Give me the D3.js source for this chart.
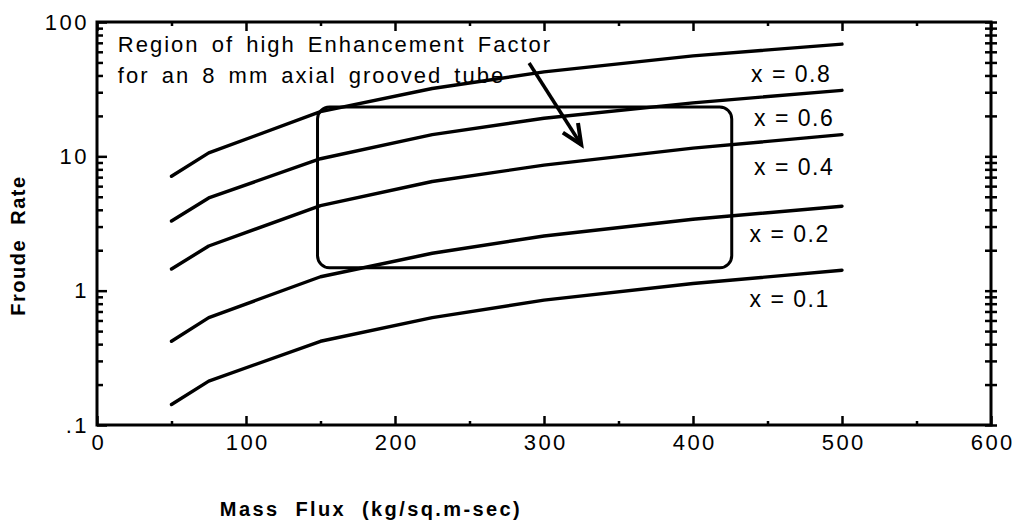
<!DOCTYPE html>
<html><head><meta charset="utf-8">
<script src="https://cdn.jsdelivr.net/npm/d3@7"></script>
<style>
body{margin:0;background:#fff}
text{font-family:"Liberation Sans",Arial,Helvetica,sans-serif;fill:#000}
</style>
</head><body>
<svg id="chart" width="1018" height="529"></svg>
<script>
// ---- data ----
const massFlux = [50, 75, 150, 225, 300, 400, 500];
const froude08 = [7.1, 10.6, 21.5, 32, 42.5, 56, 68.5];
const froude06 = [3.3, 4.9, 9.6, 14.5, 19.2, 25, 31];
const froude04 = [1.45, 2.15, 4.3, 6.5, 8.6, 11.5, 14.5];
const froude02 = [0.42, 0.63, 1.27, 1.9, 2.55, 3.4, 4.25];
const froude01 = [0.142, 0.212, 0.42, 0.63, 0.85, 1.13, 1.42];
const seriesLabels = ["x = 0.8", "x = 0.6", "x = 0.4", "x = 0.2", "x = 0.1"];
const labelFlux = [439, 441, 441, 438, 438];
const labelFroude = [36, 16.8, 7.3, 2.3, 0.75];
const xTickValues = [0, 100, 200, 300, 400, 500, 600];
const xMinorValues = [50, 150, 250, 350, 450, 550];
const yTickValues = [0.1, 1, 10, 100];
const yTickLabels = [".1", "1", "10", "100"];
const regionFlux = [148, 426];
const regionFroude = [1.48, 23.3];
const arrowFlux = [290, 325];
const arrowFroude = [49.5, 12.2];
const noteFlux = 14;
const noteFroude = [60, 35];
const noteLines = ["Region of high Enhancement Factor", "for an 8 mm axial grooved tube"];
const xTitle = "Mass  Flux  (kg/sq.m-sec)";
const yTitle = "Froude  Rate";

const series = [froude08, froude06, froude04, froude02, froude01];

// ---- layout ----
const L = 97, R = 991, T = 22, B = 425;
const svg = d3.select("#chart");
const x = d3.scaleLinear().domain([0, 600]).range([L, R]);
const y = d3.scaleLog().domain([0.1, 100]).range([B, T]);
const yMinor = y.ticks().filter(v => !yTickValues.includes(v));

const tickFont = sel => sel.selectAll("text")
  .style("font-size", "22px").style("letter-spacing", "2.5px").attr("fill", "#000");
const clean = g => { g.select(".domain").remove(); g.selectAll("line").attr("stroke", "#000").attr("stroke-width", 2.5); };

// bottom
svg.append("g").attr("transform", `translate(0,${B})`)
  .call(d3.axisBottom(x).tickValues(xTickValues).tickSizeInner(-9).tickSizeOuter(0).tickPadding(25).tickFormat(d3.format("d")))
  .call(clean).call(tickFont)
  .selectAll("text").attr("dy", "0").attr("dx", "1.25px");
svg.append("g").attr("transform", `translate(0,${B})`)
  .call(d3.axisBottom(x).tickValues(xMinorValues).tickSizeInner(-4).tickSizeOuter(0).tickFormat(""))
  .call(clean);
// top
svg.append("g").attr("transform", `translate(0,${T})`)
  .call(d3.axisTop(x).tickValues(xTickValues).tickSizeInner(-9).tickSizeOuter(0).tickFormat(""))
  .call(clean);
svg.append("g").attr("transform", `translate(0,${T})`)
  .call(d3.axisTop(x).tickValues(xMinorValues).tickSizeInner(-4).tickSizeOuter(0).tickFormat(""))
  .call(clean);
// left
svg.append("g").attr("transform", `translate(${L},0)`)
  .call(d3.axisLeft(y).tickValues(yTickValues).tickSizeInner(-10).tickSizeOuter(0).tickPadding(8)
    .tickFormat((d, i) => yTickLabels[i]))
  .call(clean).call(tickFont);
svg.append("g").attr("transform", `translate(${L},0)`)
  .call(d3.axisLeft(y).tickValues(yMinor).tickSizeInner(-6).tickSizeOuter(0).tickFormat(""))
  .call(clean);
// right (ticks cross the spine)
[6, -6].forEach(s => {
  svg.append("g").attr("transform", `translate(${R},0)`)
    .call(d3.axisRight(y).tickValues(yTickValues.concat(yMinor)).tickSizeInner(s).tickSizeOuter(0).tickFormat(""))
    .call(clean);
});
// frame
svg.append("rect").attr("x", L).attr("y", T).attr("width", R - L).attr("height", B - T)
  .attr("fill", "none").attr("stroke", "#000").attr("stroke-width", 3);

// curves
const line = d3.line().x((d, i) => x(massFlux[i])).y(d => y(d));
series.forEach(s => {
  svg.append("path").datum(s).attr("d", line)
    .attr("fill", "none").attr("stroke", "#000").attr("stroke-width", 3.4)
    .attr("stroke-linejoin", "round").attr("stroke-linecap", "round");
});

// curve labels
seriesLabels.forEach((t, i) => {
  svg.append("text").attr("x", x(labelFlux[i])).attr("y", y(labelFroude[i]))
    .style("font-size", "23px").style("letter-spacing", "1.5px").text(t);
});

// region box
svg.append("rect")
  .attr("x", x(regionFlux[0])).attr("y", y(regionFroude[1]))
  .attr("width", x(regionFlux[1]) - x(regionFlux[0]))
  .attr("height", y(regionFroude[0]) - y(regionFroude[1]))
  .attr("rx", 12).attr("ry", 12)
  .attr("fill", "none").attr("stroke", "#000").attr("stroke-width", 3);

// arrow
const ax0 = x(arrowFlux[0]), ay0 = y(arrowFroude[0]), ax1 = x(arrowFlux[1]), ay1 = y(arrowFroude[1]);
svg.append("line").attr("x1", ax0).attr("y1", ay0).attr("x2", ax1).attr("y2", ay1)
  .attr("stroke", "#000").attr("stroke-width", 3.5);
const ang = Math.atan2(ay1 - ay0, ax1 - ax0), hl = 22, ha = 0.42;
const head = [
  [ax1 - hl * Math.cos(ang - ha), ay1 - hl * Math.sin(ang - ha)],
  [ax1, ay1],
  [ax1 - hl * Math.cos(ang + ha), ay1 - hl * Math.sin(ang + ha)]
];
svg.append("path").attr("d", d3.line()(head)).attr("fill", "none")
  .attr("stroke", "#000").attr("stroke-width", 4).attr("stroke-linejoin", "miter");

// annotation
noteLines.forEach((t, i) => {
  svg.append("text").attr("x", x(noteFlux)).attr("y", y(noteFroude[i]))
    .style("font-size", "22px").style("letter-spacing", "2px").style("word-spacing", "4px").text(t);
});

// axis titles
svg.append("text").attr("x", (x(0) + x(600)) / 2 - 173).attr("y", 516)
  .attr("text-anchor", "middle").style("font-size", "20px").style("font-weight", "bold")
  .style("letter-spacing", "2.4px").style("white-space", "pre").text(xTitle);
svg.append("text").attr("transform", `translate(25,${(y(0.1) + y(100)) / 2 + 22}) rotate(-90)`)
  .attr("text-anchor", "middle").style("font-size", "20px").style("font-weight", "bold")
  .style("letter-spacing", "1.5px").style("white-space", "pre").text(yTitle);
</script>
</body></html>
